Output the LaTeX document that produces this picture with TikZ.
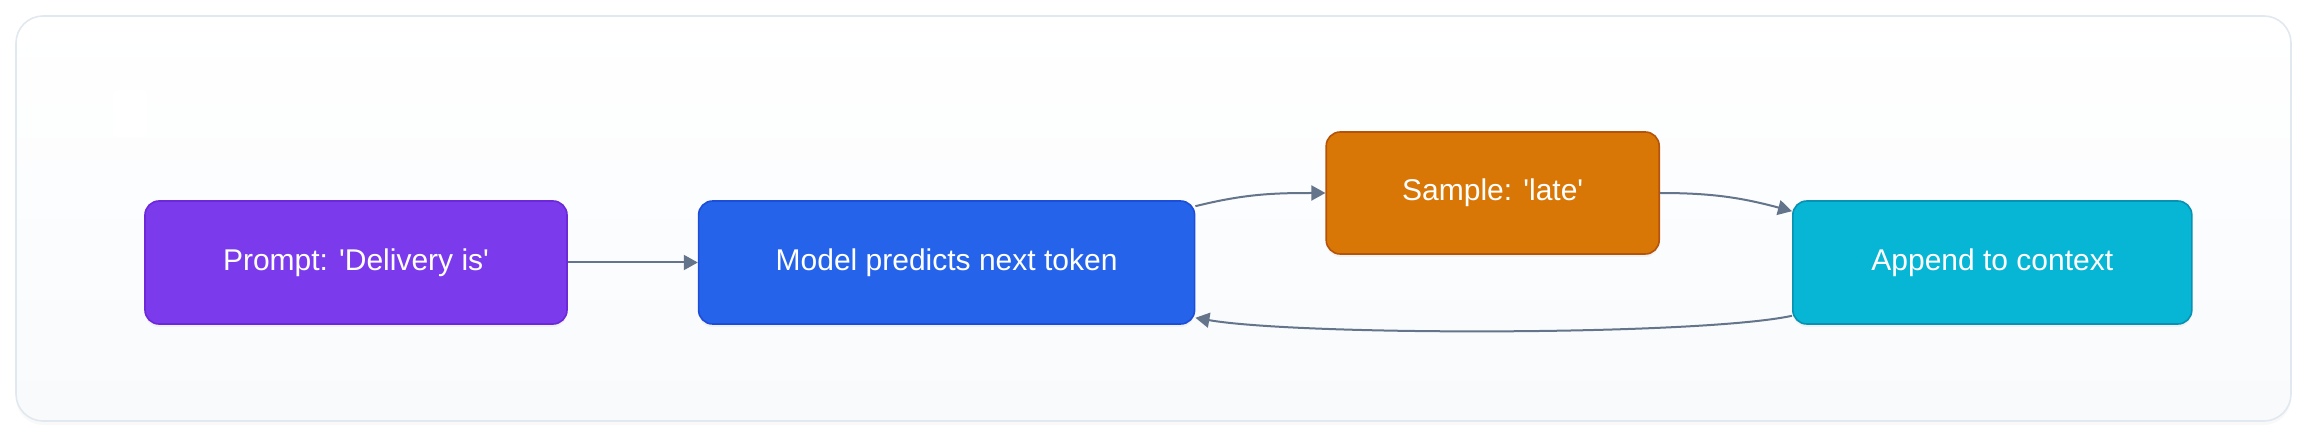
\documentclass[tikz,border=0pt]{standalone}
\usepackage{fontspec}
\setsansfont{Liberation Sans}
\usepackage{tikz}
\usetikzlibrary{arrows.meta, positioning, shadows}
\definecolor{promptbg}{HTML}{7C3AED}
\definecolor{promptbd}{HTML}{6D28D9}
\definecolor{modelbg}{HTML}{2563EB}
\definecolor{modelbd}{HTML}{1D4ED8}
\definecolor{samplebg}{HTML}{D97706}
\definecolor{samplebd}{HTML}{B45309}
\definecolor{appendbg}{HTML}{06B6D4}
\definecolor{appendbd}{HTML}{0891B2}
\definecolor{arrowgray}{HTML}{64748B}
\definecolor{panelbd}{HTML}{E2E8F0}
\definecolor{panelbot}{HTML}{F8FAFC}
\tikzset{
  nbox/.style={rounded corners=7pt, align=center, minimum height=61.5pt, inner sep=0pt,
    font=\sffamily\fontsize{15}{18}\selectfont, text=white, line width=0.8pt,
    drop shadow={opacity=0.08, shadow xshift=0pt, shadow yshift=-1.5pt}},
  flow/.style={-{Triangle[length=7pt, width=7.5pt]}, draw=arrowgray, line width=1pt}
}

\begin{document}
\begin{tikzpicture}[x=0.5pt, y=-0.5pt, node distance=65pt]
\useasboundingbox (0,0) rectangle (2308,438);
% panel
\shade[top color=white, bottom color=panelbot, rounded corners=13.5pt,
  drop shadow={opacity=0.05, shadow xshift=0pt, shadow yshift=-2pt}]
  (16,16) rectangle (2291,421);
\draw[panelbd, line width=0.8pt, rounded corners=13.5pt] (16,16) rectangle (2291,421);
\fill[white, rounded corners=2pt] (113,90) rectangle (147,137);
% steps
\node[nbox, draw=promptbd, fill=promptbg, minimum width=211pt] (prompt) at (356,262.5) {Prompt: \textquotesingle Delivery is\textquotesingle};
\node[nbox, draw=modelbd, fill=modelbg, minimum width=248pt, right=of prompt] (model) {Model predicts next token};
\node[nbox, draw=samplebd, fill=samplebg, minimum width=166.5pt, minimum height=61pt, right=of model, yshift=34.75pt] (sample) {Sample: \textquotesingle late\textquotesingle};
\node[nbox, draw=appendbd, fill=appendbg, minimum width=199.5pt, right=66pt of sample, yshift=-34.75pt] (append) {Append to context};
% connectors
\draw[flow] (prompt) -- (model);
\draw[flow] ([yshift=-3pt]model.north east) to[out=14, in=180] (sample.west);
\draw[flow] (sample.east) to[out=0, in=165] ([yshift=-5.5pt]append.north west);
\draw[flow] ([yshift=4.5pt]append.south west) .. controls +(-47pt,-10pt) and +(52pt,-9pt) .. ([yshift=3.5pt]model.south east);
\end{tikzpicture}
\end{document}
